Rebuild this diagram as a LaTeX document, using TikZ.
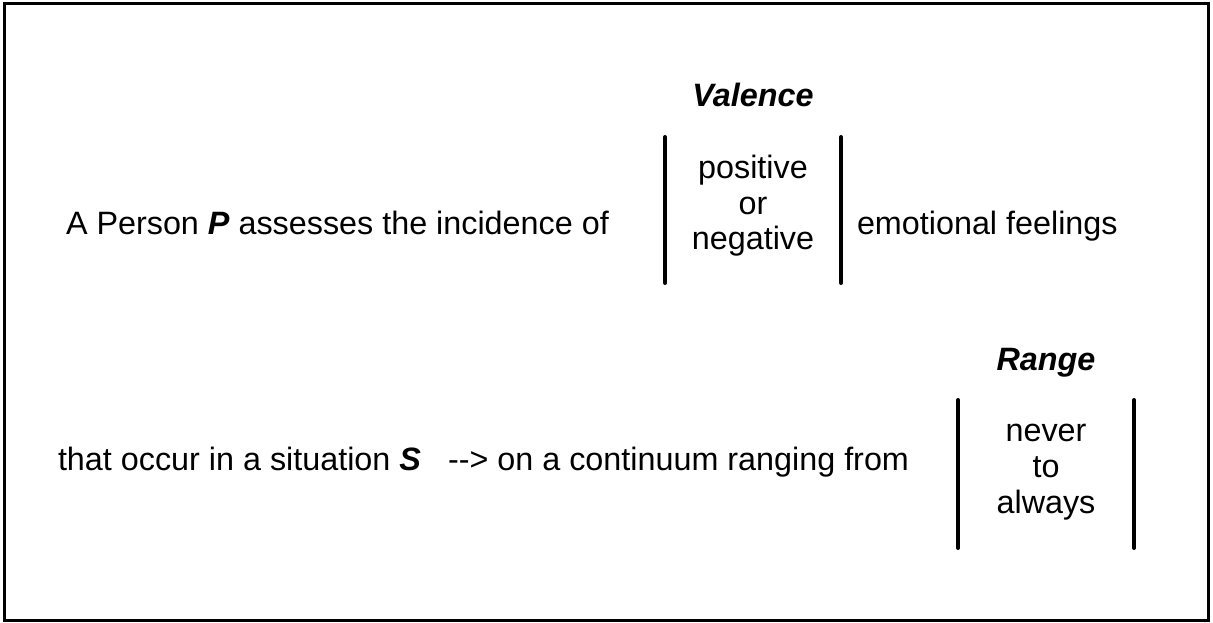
\documentclass[tikz,border=0pt]{standalone}
\usepackage{fontspec}
\setmainfont{Liberation Sans}
\begin{document}
\begin{tikzpicture}[x=0.75pt,y=-0.75pt,
  txt/.style={inner sep=0pt, outer sep=0pt, font=\fontsize{24.25}{28}\selectfont},
  lbl/.style={txt, anchor=base west},
  ctr/.style={txt, anchor=base},
  bar/.style={line width=3pt, line cap=round},
  frame/.style={line width=2.25pt}]
\useasboundingbox (0,0) rectangle (1213,623);
\draw[frame] (4,4) rectangle (1208,620);
% row 1
\node[lbl] (r1a) at (66,235) {A Person \textbf{\textit{P}} assesses the incidence of};
\node[lbl] (r1b) at (857,235) {emotional feelings};
\node[ctr] (val) at (753,107) {\textbf{\textit{Valence}}};
\node[ctr] (pos) at (753,179) {positive};
\node[ctr] (or) at (753,215) {or};
\node[ctr] (neg) at (753,250) {negative};
\coordinate (v1t) at (665,137); \coordinate (v1b) at (665,283);
\coordinate (v2t) at (841,137); \coordinate (v2b) at (841,283);
\draw[bar] (v1t) -- (v1b);
\draw[bar] (v2t) -- (v2b);
% row 2
\node[lbl] (r2a) at (58,470) {that occur in a situation \textbf{\textit{S}}};
\node[lbl] (r2b) at (448,470) {-{}-{}> on a continuum ranging from};
\node[ctr] (rng) at (1046,370) {\textbf{\textit{Range}}};
\node[ctr] (nev) at (1046,441) {never};
\node[ctr] (to) at (1046,477) {to};
\node[ctr] (alw) at (1046,513) {always};
\coordinate (r1t) at (958,400); \coordinate (r1bb) at (958,548);
\coordinate (r2t) at (1134,400); \coordinate (r2bb) at (1134,548);
\draw[bar] (r1t) -- (r1bb);
\draw[bar] (r2t) -- (r2bb);
\end{tikzpicture}
\end{document}
